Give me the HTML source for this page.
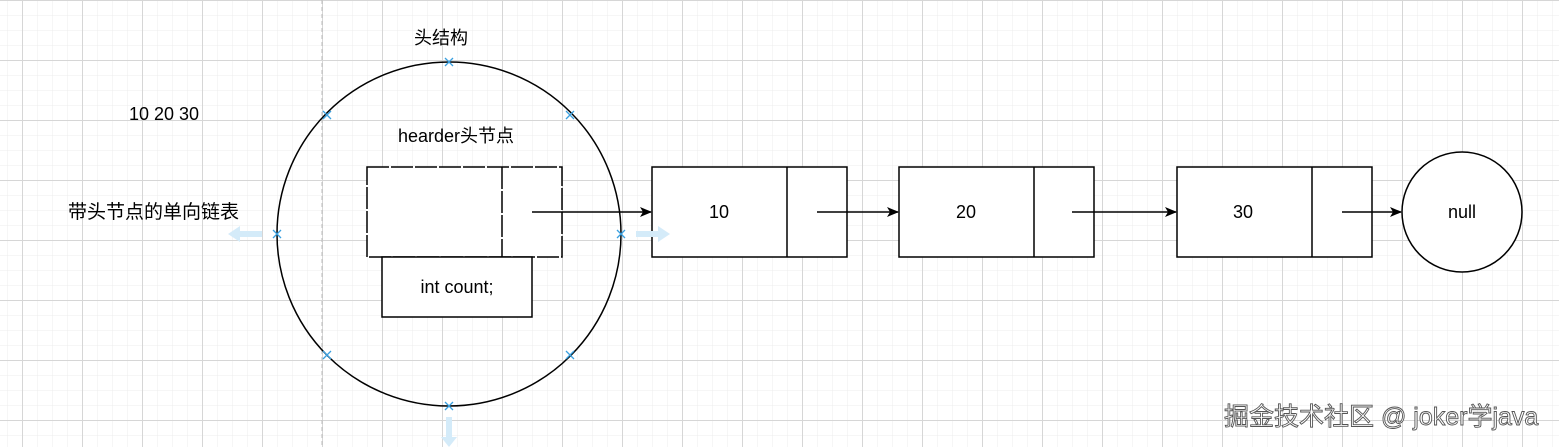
<!DOCTYPE html>
<html><head><meta charset="utf-8"><style>
html,body{margin:0;padding:0;background:#fff;width:1559px;height:447px;overflow:hidden}
svg{display:block}
text{font-family:"Liberation Sans","Noto Sans CJK SC",sans-serif;font-size:18px;fill:#000}
</style></head><body>
<svg width="1559" height="447" viewBox="0 0 1559 447" xmlns="http://www.w3.org/2000/svg">
<defs>
<pattern id="minor" width="15" height="15" patternUnits="userSpaceOnUse" x="7" y="0">
<path d="M0 0V15M0 0H15" stroke="#ececec" stroke-width="1" fill="none"/>
</pattern>
<pattern id="major" width="60" height="60" patternUnits="userSpaceOnUse" x="22" y="0">
<path d="M0.5 0V60M0 0.5H60" stroke="#d6d6d6" stroke-width="1" fill="none"/>
</pattern>
<marker id="ah" markerWidth="12" markerHeight="10" refX="11" refY="5" orient="auto" markerUnits="userSpaceOnUse">
<path d="M0 0L12 5L0 10L3 5Z" fill="#000"/>
</marker>
</defs>
<rect width="1559" height="447" fill="url(#minor)"/>
<rect width="1559" height="447" fill="url(#major)"/>
<line x1="322" y1="0" x2="322" y2="447" stroke="#bbb" stroke-dasharray="4 3"/>

<circle cx="449" cy="234" r="172" fill="none" stroke="#000" stroke-width="1.5"/>
<rect x="367" y="167" width="195" height="90" fill="#fff" stroke="#000" stroke-width="1.5" stroke-dasharray="22 2"/>
<line x1="502" y1="167" x2="502" y2="257" stroke="#000" stroke-width="1.5" stroke-dasharray="22 2"/>
<rect x="382" y="257" width="150" height="60" fill="#fff" stroke="#000" stroke-width="1.5"/>
<text x="457" y="293" text-anchor="middle">int count;</text>
<text x="456" y="142" text-anchor="middle">hearder头节点</text>
<text x="441" y="44" text-anchor="middle">头结构</text>
<text x="129" y="120">10 20 30</text>
<text x="68" y="218" style="font-size:19px">带头节点的单向链表</text>

<g fill="#fff" stroke="#000" stroke-width="1.5">
<rect x="652" y="167" width="195" height="90"/>
<line x1="787" y1="167" x2="787" y2="257"/>
<rect x="899" y="167" width="195" height="90"/>
<line x1="1034" y1="167" x2="1034" y2="257"/>
<rect x="1177" y="167" width="195" height="90"/>
<line x1="1312" y1="167" x2="1312" y2="257"/>
<circle cx="1462" cy="212" r="60"/>
</g>
<text x="719" y="218" text-anchor="middle">10</text>
<text x="966" y="218" text-anchor="middle">20</text>
<text x="1243" y="218" text-anchor="middle">30</text>
<text x="1462" y="218" text-anchor="middle">null</text>

<g stroke="#000" stroke-width="1.5" marker-end="url(#ah)">
<line x1="532" y1="212" x2="651" y2="212"/>
<line x1="817" y1="212" x2="898" y2="212"/>
<line x1="1072" y1="212" x2="1176" y2="212"/>
<line x1="1342" y1="212" x2="1401" y2="212"/>
</g>

<g stroke="#3aa0e0" stroke-width="1.3">
<path d="M445 58l8 8M453 58l-8 8"/>
<path d="M445 402l8 8M453 402l-8 8"/>
<path d="M273 230l8 8M281 230l-8 8"/>
<path d="M617 230l8 8M625 230l-8 8"/>
<path d="M323 111l8 8M331 111l-8 8"/>
<path d="M566 111l8 8M574 111l-8 8"/>
<path d="M323 351l8 8M331 351l-8 8"/>
<path d="M566 351l8 8M574 351l-8 8"/>
</g>
<g fill="#d4ebf9">
<path d="M228 234l12 -8v5h22v6h-22v5z"/>
<path d="M670 234l-12 -8v5h-22v6h22v5z"/>
<path d="M449 447l-8 -10h5v-20h6v20h5z"/>
</g>

<text x="1224" y="425" style="font-size:25px;fill:#fff;stroke:#555;stroke-width:0.9">掘金技术社区 @ joker学java</text>
</svg>
</body></html>
